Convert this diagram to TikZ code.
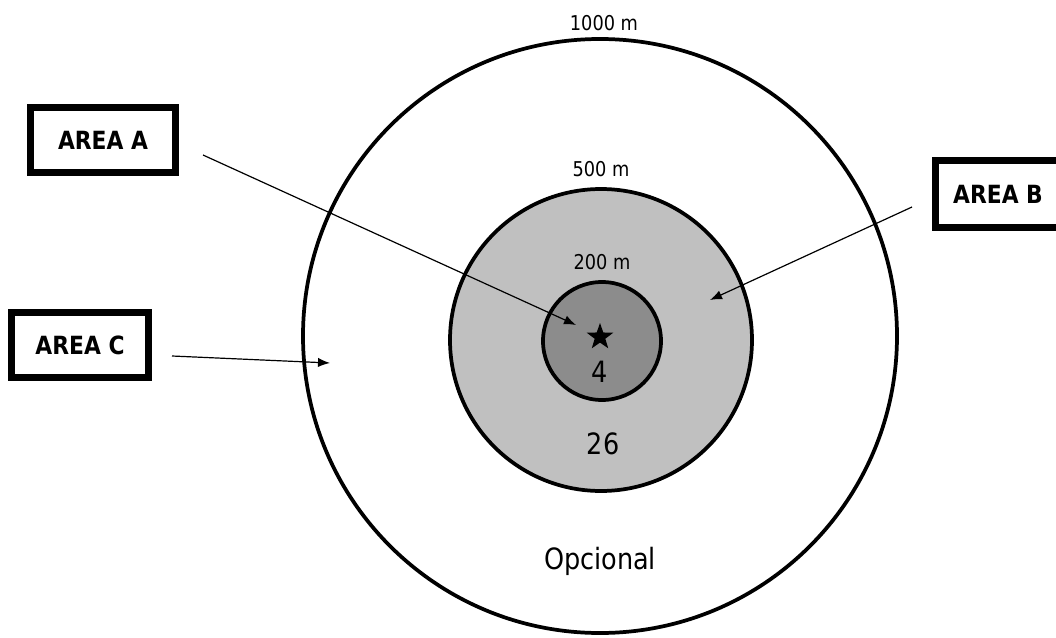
\documentclass[tikz,border=0pt]{standalone}
\usepackage{fontspec}
\setmainfont[FakeStretch=0.87]{DejaVu Sans}
\usetikzlibrary{shapes.geometric,arrows.meta}

\definecolor{ringgray}{RGB}{192,192,192}
\definecolor{coregray}{RGB}{140,140,140}

\tikzset{
  areabox/.style={draw, line width=5.2pt, fill=white, minimum height=48.75pt, inner sep=0pt, font=\fontsize{18.8}{22}\selectfont\bfseries},
  ring/.style={circle, draw, line width=2.8pt, inner sep=0pt},
  distlabel/.style={inner sep=0.75pt, font=\fontsize{15.3}{18}\selectfont},
  countlabel/.style={inner sep=0.75pt, font=\fontsize{22}{26}\selectfont},
  pointer/.style={-{Latex[length=9pt,width=7pt]}, line width=0.9pt},
}

\begin{document}
\begin{tikzpicture}[x=0.75pt,y=0.75pt,yscale=-1,xscale=1]
    \useasboundingbox (0,0) rectangle (1056,638);

    %Shape: Circle [outer ring]
    \node [ring, minimum size=445.5pt] (outer) at (600,336) {};
    %Shape: Circle [middle ring]
    \node [ring, fill=ringgray, minimum size=226.5pt] (middle) at (601,340) {};
    %Shape: Circle [inner ring]
    \node [ring, fill=coregray, minimum size=88.5pt] (inner) at (602,341) {};
    %Shape: Star
    \node [star, star points=5, star point ratio=2.5, fill=black, minimum size=21pt, inner sep=0pt] (site) at (600,337) {};

    % Text Node
    \node [distlabel] (lbl1000) at (604,23) {1000 m};
    % Text Node
    \node [distlabel] (lbl500) at (601,169) {500 m};
    % Text Node
    \node [distlabel] (lbl200) at (602,262) {200 m};
    % Text Node
    \node [countlabel] (cnt4) at (600,372) {4};
    % Text Node
    \node [countlabel] (cnt26) at (603,444) {26};
    % Text Node
    \node [countlabel] (opc) at (600,561) {Opcional};

    %Shape: Rectangle
    \node [areabox, minimum width=108.75pt] (areaA) at (103,140) {AREA A};
    %Shape: Rectangle
    \node [areabox, minimum width=93.75pt, minimum height=50pt] (areaB) at (998,194) {AREA B};
    %Shape: Rectangle
    \node [areabox, minimum width=102.75pt] (areaC) at (80,345) {AREA C};

    %Straight Lines [arrows]
    \coordinate (tailA) at (203,155);
    \coordinate (tipA) at (576,325);
    \coordinate (tailB) at (912,207);
    \coordinate (tipB) at (710,300);
    \coordinate (tailC) at (172,356);
    \coordinate (tipC) at (330,363);
    \draw [pointer] (tailA) -- (tipA);
    \draw [pointer] (tailB) -- (tipB);
    \draw [pointer] (tailC) -- (tipC);

\end{tikzpicture}
\end{document}
